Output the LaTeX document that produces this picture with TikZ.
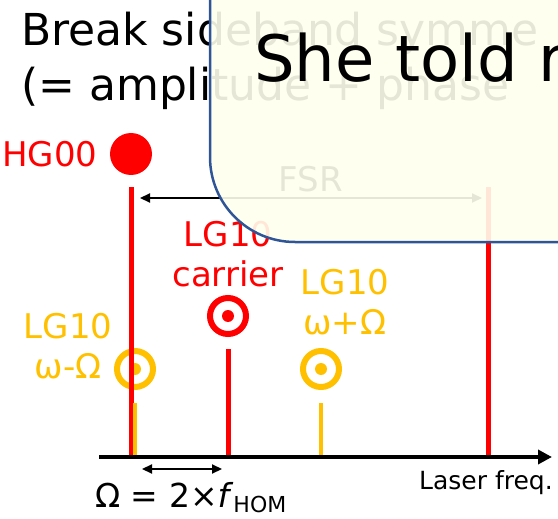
\documentclass[tikz,border=0pt]{standalone}
\usepackage{fontspec}
\setmainfont{DejaVu Sans}
\usepackage{xcolor}
\usetikzlibrary{arrows.meta,positioning}
\definecolor{hgred}{HTML}{FF0000}
\definecolor{lgorange}{HTML}{FFC000}
\definecolor{noteblue}{HTML}{2F5597}
\definecolor{noteivory}{HTML}{FFFFEE}

\begin{document}
\begin{tikzpicture}[
    x=1pt, y=-1pt,
    mode/.style={circle, fill=#1, minimum size=42pt, inner sep=0pt},
    ring/.style={circle, draw=#1, fill=white, line width=6pt, minimum size=36pt, inner sep=0pt,
                 path picture={\fill[#1] (path picture bounding box.center) circle (6pt);}},
    lbl/.style={font=\fontsize{34}{40}\selectfont, align=center, inner sep=0pt},
    hgline/.style={hgred, line width=5pt},
    lgline/.style={lgorange, line width=4pt},
    dimarrow/.style={{Triangle[length=10pt,width=9pt]}-{Triangle[length=10pt,width=9pt]}, line width=2.2pt},
    freqaxis/.style={-{Triangle[length=14pt,width=14pt]}, line width=4pt},
    callout/.style={draw=noteblue, line width=2.5pt, fill=noteivory, fill opacity=0.9, rounded corners=85pt}
  ]
    \useasboundingbox (0,0) rectangle (558,519);
    \clip (0,0) rectangle (558,519);

    \node[anchor=base west, inner sep=0pt, font=\fontsize{44}{55}\selectfont] (title1) at (21,46) {Break sideband symme};
    \node[anchor=base west, inner sep=0pt, font=\fontsize{44}{55}\selectfont] (title2) at (21,101) {(= amplitude + phase};

    \node[mode=hgred] (hg00) at (131,154) {};
    \node[lbl, text=hgred, left=12pt of hg00] (hglab) {HG00};
    \node[ring=hgred] (car) at (228,316) {};
    \node[lbl, text=hgred, above=8pt of car] (carlab) {LG10\\carrier};
    \node[ring=lgorange] (lsb) at (135,369) {};
    \node[lbl, text=lgorange] (lsblab) at (68,346.5) {LG10\\ω-Ω};
    \node[ring=lgorange] (usb) at (321,369) {};
    \node[lbl, text=lgorange] (usblab) at (345,302.5) {LG10\\ω+Ω};

    \coordinate (ax0) at (99,457);
    \coordinate (ax1) at (552,457);
    \coordinate (fsrtop) at (488,187);

    \draw[hgline] ([yshift=-12pt]hg00.south) -- (hg00.south |- ax0);
    \draw[hgline] ([yshift=-12pt]car.south) -- (car.south |- ax0);
    \draw[hgline] (fsrtop) -- (fsrtop |- ax0);
    \draw[lgline] ([yshift=-13pt]lsb.south) -- (lsb.south |- ax0);
    \draw[lgline] ([yshift=-13pt]usb.south) -- (usb.south |- ax0);
    \draw[freqaxis] (ax0) -- (ax1);

    \coordinate (fsrL) at (140,198);
    \coordinate (fsrR) at (482,198);
    \draw[dimarrow] (fsrL) -- (fsrR) node[midway, anchor=base, yshift=6pt, inner sep=0pt, font=\fontsize{34}{34}\selectfont] (fsrlab) {FSR};

    \coordinate (omL) at (142,469);
    \coordinate (omR) at (222,469);
    \draw[dimarrow] (omL) -- (omR);
    \node[anchor=base west, inner sep=0pt, font=\fontsize{33}{33}\selectfont] (omlab) at (95,507) {Ω = 2×\textit{f}\raisebox{-5pt}{\fontsize{22}{22}\selectfont HOM}};
    \node[anchor=base east, inner sep=0pt, font=\fontsize{25}{25}\selectfont] (xlab) at (553,489) {Laser freq.};

    \draw[callout] (210,-150) rectangle (720,242);
    \node[anchor=base west, inner sep=0pt, font=\fontsize{64}{64}\selectfont] (note) at (254,82) {She told r};
  \end{tikzpicture}
\end{document}
